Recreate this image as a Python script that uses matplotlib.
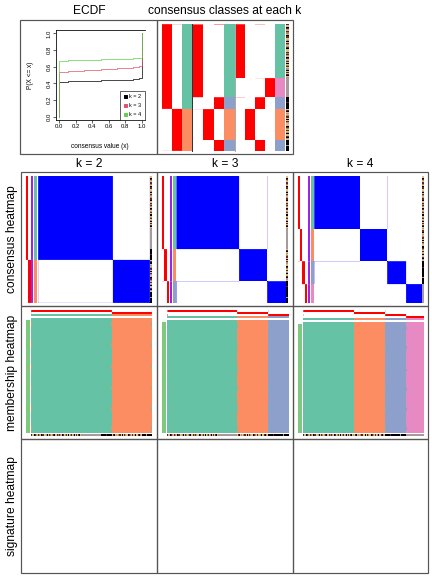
import numpy as np
import matplotlib
matplotlib.use('Agg')
import matplotlib.pyplot as plt
from matplotlib.colors import to_rgb
from matplotlib.lines import Line2D
from matplotlib.patches import Rectangle

plt.rcParams['font.family'] = ['Liberation Sans', 'DejaVu Sans']

W, H = 432, 576

# samples come in five runs that share the same class calls for k = 2, 3, 4
seg_sizes = [51, 18, 11, 30, 10]
seg_k2 = [1, 1, 1, 2, 2]
seg_k3 = [1, 1, 3, 2, 3]
seg_k4 = [1, 4, 3, 2, 3]

# sample annotation (right / bottom stripes), one code per sample
seg_anno = [
    "ryykrpyroy" "krryypkyro" "yprkyyrorp" "ykryprykyo" "rypkyryrky" "p",
    "gggggggggggggggggg",
    "kkkkkrkkkkk",
    "yrkypyorry" "kyrpyykroy" "rypkyyrkpy",
    "kkkkgkkkkk",
]
anno_colors = {'k': '#000000', 'r': '#7B1530', 'y': '#C8C873',
               'p': '#B48C96', 'o': '#A08850', 'g': '#A59B9B'}

# samples that are not cleanly assigned: (sample, prob of own class, other class)
fuzzy_k2 = [(0, 0.85, 2), (79, 0.9, 2), (119, 0.9, 1)]
fuzzy_k3 = [(0, 0.6, 3), (69, 0.8, 1), (80, 0.9, 1)]
fuzzy_k4 = [(0, 0.75, 3), (69, 0.8, 1), (51, 0.9, 3)]

# partition runs in the membership heatmap where fuzzy samples flip
n_runs = 40
other_runs = [2, 9, 17, 24, 31, 38]

# ECDF of consensus values
ecdf_x = [0.0, 0.1, 0.3, 0.5, 0.7, 0.9, 0.97, 1.0]
ecdf_k2 = [0.42, 0.425, 0.43, 0.435, 0.44, 0.45, 0.46, 1.0]
ecdf_k3 = [0.54, 0.55, 0.565, 0.575, 0.585, 0.6, 0.61, 1.0]
ecdf_k4 = [0.67, 0.675, 0.68, 0.69, 0.695, 0.7, 0.71, 1.0]

set2 = ['#66C2A5', '#FC8D62', '#8DA0CB', '#E78AC3']
ecdf_cols = ['black', '#DF536B', '#61D04F']

cls = {2: np.repeat(seg_k2, seg_sizes),
       3: np.repeat(seg_k3, seg_sizes),
       4: np.repeat(seg_k4, seg_sizes)}
fuzzy = {2: fuzzy_k2, 3: fuzzy_k3, 4: fuzzy_k4}
anno = np.array([to_rgb(anno_colors[ch]) for ch in ''.join(seg_anno)])
N = len(anno)


def probs(c, k, fz):
    p = np.zeros((len(c), k))
    p[np.arange(len(c)), c - 1] = 1.0
    for i, own, other in fz:
        p[i, :] = 0
        p[i, c[i] - 1] = own
        p[i, other - 1] = 1 - own
    return p


def ramp(values, color):
    col = np.array(to_rgb(color))
    v = np.asarray(values, dtype=float)[..., None]
    return 1 - v * (1 - col)


def class_rgb(c):
    return np.array([to_rgb(set2[i - 1]) for i in c])


fig = plt.figure(figsize=(W / 72, H / 72), dpi=72)
canvas = fig.add_axes([0, 0, 1, 1])
canvas.set_xlim(0, W)
canvas.set_ylim(H, 0)
canvas.set_axis_off()
canvas.set_zorder(10)


def px_axes(x0, y0, x1, y1):
    return fig.add_axes([x0 / W, 1 - y1 / H, (x1 - x0) / W, (y1 - y0) / H])


def paint(box, rgb):
    ax = px_axes(*box)
    ax.imshow(rgb, aspect='auto', interpolation='nearest')
    ax.set_axis_off()
    return ax


# ---- ECDF ----
ax = px_axes(56, 30, 145, 120)
for ys, col in zip([ecdf_k2, ecdf_k3, ecdf_k4], ecdf_cols):
    ax.step([0.0] + ecdf_x, [0.0] + ys, where='post', color=col, lw=0.7)
ax.set_xlim(-0.04, 1.04)
ax.set_ylim(-0.04, 1.04)
ticks = [0, 0.2, 0.4, 0.6, 0.8, 1.0]
ax.set_xticks(ticks)
ax.set_yticks(ticks)
ax.set_xticklabels([f'{t:.1f}' for t in ticks])
ax.set_yticklabels([f'{t:.1f}' for t in ticks], rotation=90, va='center')
ax.tick_params(labelsize=6, length=3, width=0.6, pad=1.5)
ax.spines['right'].set_visible(False)
for s in ['left', 'top', 'bottom']:
    ax.spines[s].set_linewidth(0.8)
handles = [Line2D([], [], marker='s', ls='', color=c, markersize=3, label=f'k = {k}')
           for k, c in zip([2, 3, 4], ecdf_cols)]
leg = ax.legend(handles=handles, loc='lower right', fontsize=5.5, frameon=True,
                fancybox=False, edgecolor='black', framealpha=1, handlelength=0.8,
                handletextpad=0.4, borderpad=0.6, labelspacing=0.7, borderaxespad=0)
leg.get_frame().set_linewidth(0.6)
canvas.text(100, 147, 'consensus value (x)', fontsize=6.5, ha='center', va='center')
canvas.text(30, 75, 'P(X <= x)', fontsize=6.5, ha='center', va='center', rotation=90)

# ---- consensus classes at each k ----
sections = [(2, 161.7, 191.0), (3, 192.7, 234.0), (4, 235.0, 284.3)]
for k, x0, x1 in sections:
    p = probs(cls[k], k, fuzzy[k])
    cols = [ramp(p[:, c], 'red') for c in range(k)] + [class_rgb(cls[k])]
    paint((x0, 24.3, x1, 150.7), np.stack(cols, axis=1))
paint((285.7, 24.3, 288.3, 150.7), anno[:, None, :])
canvas.plot([191.8, 191.8], [24.3, 150.7], color='#333333', lw=1)
canvas.plot([234.5, 234.5], [24.3, 150.7], color='#AAAAAA', lw=1)

# ---- per-k consensus and membership heatmaps ----
cell_x = {2: 21, 3: 157, 4: 293}
for k, cx in cell_x.items():
    c = cls[k]
    order = np.argsort(c, kind='stable')
    p = probs(c, k, fuzzy[k])
    cons = p @ p.T
    np.fill_diagonal(cons, 1.0)
    po = p[order]

    # consensus heatmap
    y0, y1 = 176, 303.3
    x = cx + 5
    paint((x, y0, x + 2.1 * k, y1), np.stack([ramp(po[:, j], 'red') for j in range(k)], axis=1))
    x += 2.1 * k + 1.2
    paint((x, y0, x + 2, y1), ramp(po.max(axis=1), '#A020F0')[:, None])
    x += 3
    paint((x, y0, x + 2.5, y1), class_rgb(c[order])[:, None])
    x += 3.2
    paint((x, y0, cx + 128, y1), ramp(cons[np.ix_(order, order)], 'blue'))
    paint((cx + 129, y0, cx + 131, y1), anno[order][:, None])

    # membership heatmap
    bx0, bx1 = cx + 10, cx + 131
    paint((bx0, 310, bx1, 310 + 2 * k), ramp(po.T, 'red'))
    paint((bx0, 310 + 2 * k, bx1, 312 + 2 * k), class_rgb(c[order])[None])
    body_top = 313.5 + 2 * k
    runs = np.tile(c[order], (n_runs, 1))
    for i, own, other in fuzzy[k]:
        col = int(np.where(order == i)[0][0])
        runs[other_runs, col] = other
    body = np.array([[to_rgb(set2[v - 1]) for v in row] for row in runs])
    paint((bx0, body_top, bx1, 432.7), body)
    paint((cx + 5, body_top + 2, cx + 9, 432.7), np.array([[to_rgb('#7FC97F')]]))
    paint((bx0, 434, bx1, 436.3), anno[order][None])

# ---- frames and labels ----
frame = dict(fill=False, ec='#555555', lw=1.2)
canvas.add_patch(Rectangle((20, 20), 137, 134, **frame))
canvas.add_patch(Rectangle((157, 20), 136, 134, **frame))
for xa, xb in [(21, 157), (157, 293), (293, 428)]:
    for ya, yb in [(172, 306), (306, 439), (439, 573)]:
        canvas.add_patch(Rectangle((xa, ya), xb - xa, yb - ya, **frame))

canvas.text(89, 11, 'ECDF', fontsize=12, ha='center', va='center')
canvas.text(225, 11, 'consensus classes at each k', fontsize=12, ha='center', va='center')
for k, xc in [(2, 89), (3, 225), (4, 360.5)]:
    canvas.text(xc, 164, f'k = {k}', fontsize=12, ha='center', va='center')
for label, yc in [('consensus heatmap', 239), ('membership heatmap', 372.5),
                  ('signature heatmap', 506)]:
    canvas.text(12, yc, label, fontsize=12, ha='center', va='center', rotation=90)

fig.savefig('out.png', dpi=72)
